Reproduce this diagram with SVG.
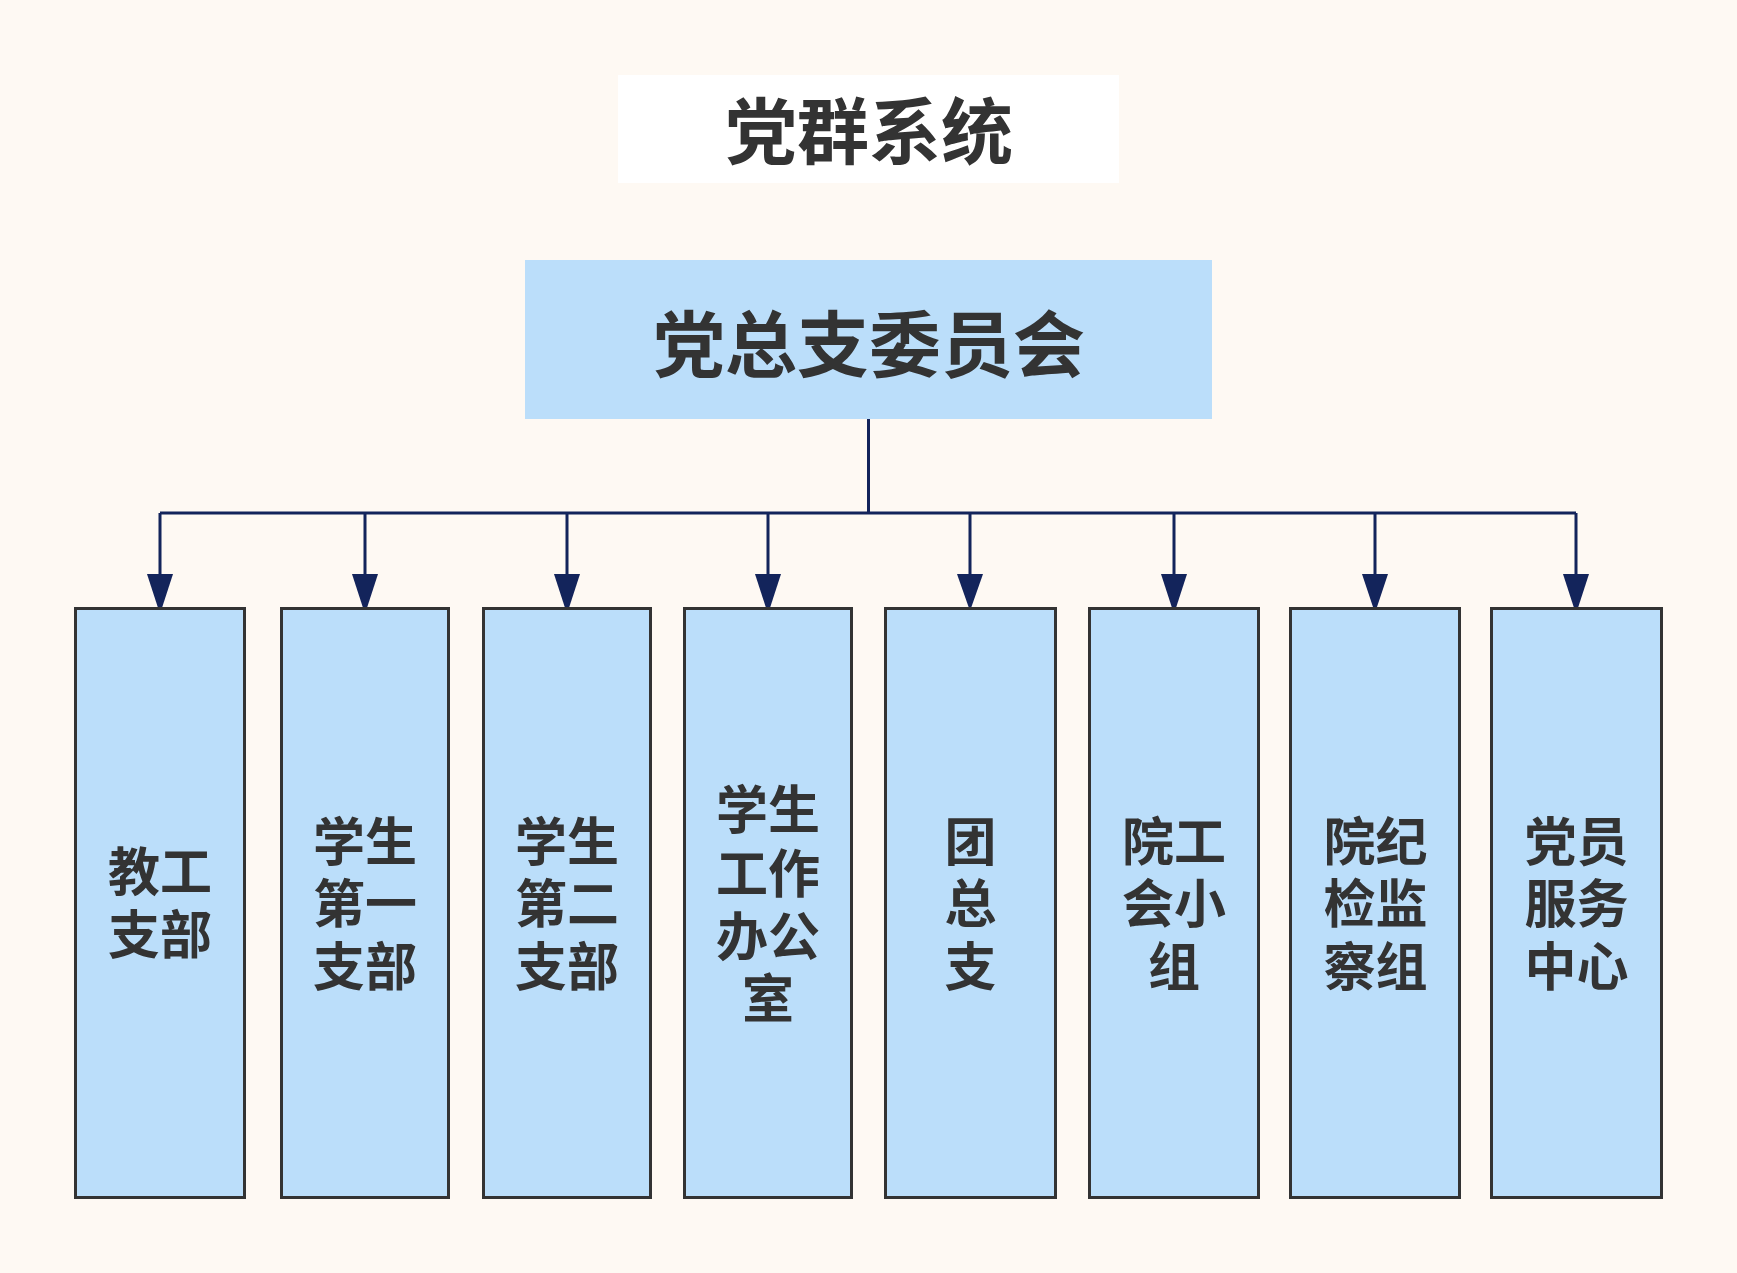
<svg xmlns="http://www.w3.org/2000/svg" width="1737" height="1273" viewBox="0 0 1737 1273">
<defs>
<style>
.bg{fill:#FEF9F3}
.box{fill:#BBDEFA;stroke:#333333;stroke-width:3}
.t{font-family:"Noto Sans CJK SC","Noto Sans",sans-serif;font-weight:700;fill:#333333;text-anchor:middle}
.big{font-size:72px}
.small{font-size:52px}
.conn{fill:none;stroke:#13245B;stroke-width:3}
.head{fill:#13245B}
</style>
</defs>
<rect class="bg" x="0" y="0" width="1737" height="1273"/>
<g id="title">
<rect x="618" y="75" width="501" height="108" fill="#FFFFFF"/>
<text class="t big" x="869" y="158">党群系统</text>
</g>
<g id="root">
<rect x="525" y="260" width="687" height="159" fill="#BBDEFA"/>
<text class="t big" x="869" y="371">党总支委员会</text>
</g>
<g id="connectors">
<path class="conn" d="M868.5 419 V513 M160 513 H1576 M160 513 V576 M365 513 V576 M567 513 V576 M768 513 V576 M970 513 V576 M1174 513 V576 M1375 513 V576 M1576 513 V576"/>
<polygon class="head" points="147,574 173,574 160,614"/>
<polygon class="head" points="352,574 378,574 365,614"/>
<polygon class="head" points="554,574 580,574 567,614"/>
<polygon class="head" points="755,574 781,574 768,614"/>
<polygon class="head" points="957,574 983,574 970,611"/>
<polygon class="head" points="1161,574 1187,574 1174,614"/>
<polygon class="head" points="1362,574 1388,574 1375,613"/>
<polygon class="head" points="1563,574 1589,574 1576,614"/>
</g>
<g id="n1">
<rect class="box" x="75.5" y="608.5" width="169" height="589"/>
<text class="t small" x="160" y="891">教工</text>
<text class="t small" x="160" y="954">支部</text>
</g>
<g id="n2">
<rect class="box" x="281.5" y="608.5" width="167" height="589"/>
<text class="t small" x="365" y="861">学生</text>
<text class="t small" x="365" y="923">第一</text>
<text class="t small" x="365" y="986">支部</text>
</g>
<g id="n3">
<rect class="box" x="483.5" y="608.5" width="167" height="589"/>
<text class="t small" x="567" y="861">学生</text>
<text class="t small" x="567" y="923">第二</text>
<text class="t small" x="567" y="986">支部</text>
</g>
<g id="n4">
<rect class="box" x="684.5" y="608.5" width="167" height="589"/>
<text class="t small" x="768" y="829">学生</text>
<text class="t small" x="768" y="893">工作</text>
<text class="t small" x="768" y="956">办公</text>
<text class="t small" x="768" y="1018">室</text>
</g>
<g id="n5">
<rect class="box" x="885.5" y="608.5" width="170" height="589"/>
<text class="t small" x="970.5" y="861">团</text>
<text class="t small" x="970.5" y="923">总</text>
<text class="t small" x="970.5" y="986">支</text>
</g>
<g id="n6">
<rect class="box" x="1089.5" y="608.5" width="169" height="589"/>
<text class="t small" x="1174" y="861">院工</text>
<text class="t small" x="1174" y="923">会小</text>
<text class="t small" x="1174" y="986">组</text>
</g>
<g id="n7">
<rect class="box" x="1290.5" y="608.5" width="169" height="589"/>
<text class="t small" x="1375.5" y="861">院纪</text>
<text class="t small" x="1375.5" y="923">检监</text>
<text class="t small" x="1375.5" y="986">察组</text>
</g>
<g id="n8">
<rect class="box" x="1491.5" y="608.5" width="170" height="589"/>
<text class="t small" x="1576.5" y="861">党员</text>
<text class="t small" x="1576.5" y="923">服务</text>
<text class="t small" x="1576.5" y="986">中心</text>
</g>
</svg>
